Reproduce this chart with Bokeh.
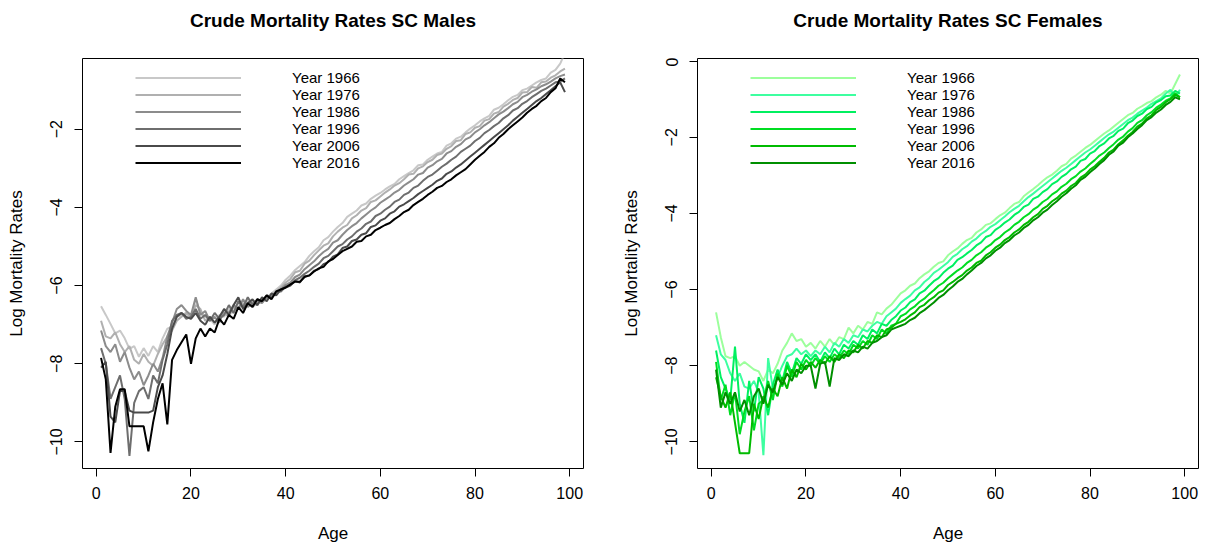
from bokeh.plotting import figure
from bokeh.layouts import row, column
from bokeh.models import Range1d, Legend, LegendItem, FixedTicker
from bokeh.core.properties import value
from bokeh.embed import file_html
from bokeh.resources import INLINE

ages = list(range(1, 100))
years = ["Year 1966", "Year 1976", "Year 1986", "Year 1996", "Year 2006", "Year 2016"]
x_ticks = [0, 20, 40, 60, 80, 100]
y_ticks_m = [-10, -8, -6, -4, -2]
y_ticks_f = [-10, -8, -6, -4, -2, 0]

male_colors = ["#c8c8c8", "#b0b0b0", "#8c8c8c", "#6e6e6e", "#4a4a4a", "#000000"]
female_colors = ["#9cff9c", "#3dffa0", "#00f060", "#00dd22", "#00bb00", "#008f00"]

M1966 = [
-6.53, -6.75, -6.98, -7.22, -7.15, -7.35, -7.62, -7.55, -7.82, -7.60,
-7.80, -7.55, -7.70, -7.35, -7.10, -7.05, -6.80, -6.75, -6.70, -6.85,
-6.35, -6.70, -6.80, -6.85, -7.00, -6.75, -6.80, -6.60, -6.70, -6.45,
-6.50, -6.40, -6.55, -6.45, -6.40, -6.30, -6.20, -6.10, -6.00,
-5.85, -5.74, -5.60, -5.50, -5.40, -5.24, -5.12, -5.02, -4.84, -4.76, -4.62,
-4.50, -4.40, -4.24, -4.16, -4.08, -3.95, -3.90, -3.78, -3.70, -3.63,
-3.54, -3.46, -3.40, -3.28, -3.20, -3.12, -3.05, -2.92, -2.90, -2.78,
-2.70, -2.62, -2.58, -2.42, -2.36, -2.24, -2.19, -2.08, -1.98, -1.90,
-1.80, -1.72, -1.66, -1.50, -1.45, -1.36, -1.26, -1.17, -1.12, -1.00,
-0.96, -0.88, -0.80, -0.74, -0.70, -0.55, -0.48, -0.32, -0.05]
M1976 = [
-6.90, -7.30, -7.35, -7.20, -7.50, -7.70, -7.55, -7.90, -8.00, -7.75,
-7.95, -8.05, -7.75, -7.50, -7.30, -7.15, -6.90, -6.80, -6.70, -6.80,
-6.50, -6.60, -6.90, -6.80, -6.95, -6.85, -6.70, -6.80, -6.55, -6.60,
-6.45, -6.50, -6.40, -6.50, -6.35, -6.30, -6.25, -6.15, -6.05,
-5.92, -5.83, -5.66, -5.62, -5.44, -5.36, -5.22, -5.10, -4.98, -4.92, -4.74,
-4.62, -4.52, -4.45, -4.28, -4.20, -4.08, -4.02, -3.86, -3.82, -3.72,
-3.62, -3.54, -3.44, -3.38, -3.28, -3.16, -3.14, -3.00, -2.95, -2.84,
-2.78, -2.66, -2.62, -2.50, -2.43, -2.30, -2.28, -2.12, -2.08, -1.96,
-1.92, -1.78, -1.74, -1.60, -1.56, -1.42, -1.35, -1.25, -1.20, -1.06,
-1.05, -0.92, -0.94, -0.80, -0.78, -0.68, -0.62, -0.52, -0.45]
M1986 = [
-7.15, -7.55, -7.70, -7.50, -7.95, -7.70, -8.10, -8.40, -8.20, -8.55,
-8.30, -8.00, -8.20, -7.85, -7.30, -6.95, -6.60, -6.50, -6.65, -6.75,
-6.30, -6.75, -6.65, -6.90, -6.80, -6.95, -6.60, -6.70, -6.50, -6.60,
-6.35, -6.55, -6.45, -6.40, -6.45, -6.30, -6.30, -6.20, -6.10,
-5.98, -5.92, -5.78, -5.72, -5.58, -5.48, -5.38, -5.25, -5.14, -5.06, -4.90,
-4.84, -4.70, -4.58, -4.48, -4.40, -4.28, -4.18, -4.08, -4.00, -3.88,
-3.80, -3.72, -3.62, -3.55, -3.44, -3.36, -3.28, -3.16, -3.12, -2.98,
-2.92, -2.82, -2.76, -2.62, -2.56, -2.45, -2.38, -2.26, -2.20, -2.08,
-2.00, -1.90, -1.82, -1.72, -1.62, -1.55, -1.46, -1.36, -1.30, -1.18,
-1.12, -1.04, -0.98, -0.90, -0.85, -0.78, -0.70, -0.64, -0.60]
M1996 = [
-7.60, -8.00, -8.90, -8.60, -8.30, -8.90, -10.36, -9.00, -8.70, -8.60,
-8.90, -8.30, -8.50, -7.90, -7.50, -6.90, -6.75, -6.70, -6.85, -6.80,
-6.60, -6.85, -6.75, -6.90, -6.70, -6.85, -6.75, -6.50, -6.70, -6.40,
-6.55, -6.30, -6.50, -6.35, -6.40, -6.25, -6.30, -6.15, -6.15,
-6.02, -5.98, -5.86, -5.80, -5.70, -5.62, -5.52, -5.44, -5.30, -5.24, -5.12,
-5.00, -4.94, -4.82, -4.74, -4.62, -4.54, -4.42, -4.36, -4.22, -4.16,
-4.06, -3.98, -3.86, -3.80, -3.68, -3.62, -3.50, -3.44, -3.32, -3.22,
-3.16, -3.06, -2.96, -2.88, -2.78, -2.70, -2.58, -2.50, -2.42, -2.30,
-2.22, -2.10, -2.02, -1.92, -1.84, -1.72, -1.64, -1.52, -1.46, -1.35,
-1.28, -1.18, -1.10, -1.02, -0.96, -0.88, -0.80, -0.78, -0.70]
M2006 = [
-8.10, -7.95, -9.35, -9.50, -8.70, -8.70, -9.20, -9.25, -9.25, -9.25,
-9.25, -9.20, -8.60, -8.30, -7.75, -7.10, -6.80, -6.70, -6.80, -6.85,
-6.70, -6.90, -7.00, -6.80, -6.95, -6.80, -6.60, -6.75, -6.50, -6.30,
-6.60, -6.45, -6.35, -6.50, -6.30, -6.40, -6.20, -6.25, -6.10,
-6.05, -6.00, -5.88, -5.92, -5.76, -5.74, -5.62, -5.58, -5.45, -5.40, -5.26,
-5.20, -5.04, -5.00, -4.86, -4.82, -4.70, -4.66, -4.50, -4.46, -4.34,
-4.28, -4.16, -4.10, -3.98, -3.92, -3.84, -3.76, -3.66, -3.58, -3.50,
-3.42, -3.32, -3.26, -3.14, -3.08, -2.98, -2.90, -2.80, -2.70, -2.60,
-2.50, -2.40, -2.30, -2.20, -2.10, -2.00, -1.90, -1.78, -1.68, -1.58,
-1.48, -1.38, -1.28, -1.20, -1.10, -1.00, -0.90, -0.80, -1.05]
M2016 = [
-7.85, -8.40, -10.28, -9.10, -8.65, -8.65, -9.60, -9.60, -9.60, -9.60,
-10.24, -9.50, -8.90, -8.50, -9.55, -7.90, -7.65, -7.45, -7.25, -8.00,
-7.35, -7.10, -7.30, -7.10, -7.20, -6.85, -7.00, -6.75, -6.85, -6.55,
-6.70, -6.45, -6.55, -6.35, -6.40, -6.25, -6.35, -6.15, -6.10,
-6.05, -5.97, -5.90, -5.90, -5.78, -5.74, -5.64, -5.56, -5.52, -5.38, -5.32,
-5.22, -5.12, -5.06, -5.00, -4.88, -4.86, -4.74, -4.70, -4.58, -4.52,
-4.45, -4.40, -4.30, -4.22, -4.12, -4.06, -3.94, -3.86, -3.78, -3.68,
-3.60, -3.50, -3.45, -3.35, -3.28, -3.18, -3.10, -3.02, -2.90, -2.78,
-2.68, -2.58, -2.45, -2.36, -2.22, -2.12, -2.00, -1.90, -1.80, -1.70,
-1.58, -1.48, -1.40, -1.28, -1.20, -1.05, -0.95, -0.70, -0.80]

F1966 = [
-6.60, -7.25, -7.75, -7.80, -7.75, -8.00, -7.90, -8.00, -8.10, -8.15,
-8.40, -8.10, -8.20, -7.95, -7.60, -7.40, -7.15, -7.35, -7.30, -7.50,
-7.40, -7.55, -7.35, -7.50, -7.30, -7.45, -7.25, -7.30, -7.00, -7.15,
-6.95, -7.05, -6.85, -6.90, -6.60, -6.65, -6.50, -6.40, -6.25,
-6.10, -6.02, -5.90, -5.84, -5.70, -5.60, -5.52, -5.40, -5.30, -5.26, -5.10,
-5.00, -4.92, -4.80, -4.70, -4.64, -4.50, -4.42, -4.30, -4.26, -4.15,
-4.05, -3.98, -3.86, -3.75, -3.70, -3.55, -3.45, -3.36, -3.26, -3.15,
-3.05, -2.98, -2.88, -2.76, -2.70, -2.56, -2.48, -2.38, -2.28, -2.20,
-2.10, -2.00, -1.90, -1.82, -1.72, -1.62, -1.52, -1.42, -1.36, -1.25,
-1.18, -1.10, -1.05, -0.95, -0.88, -0.78, -0.85, -0.60, -0.35]
F1976 = [
-7.20, -7.70, -7.85, -8.20, -8.40, -8.20, -8.55, -8.60, -8.40, -8.70,
-10.35, -7.80, -8.60, -8.30, -8.00, -7.75, -7.70, -7.55, -7.70, -7.60,
-7.75, -7.60, -7.70, -7.50, -7.65, -7.40, -7.50, -7.30, -7.40, -7.20,
-7.25, -7.05, -7.10, -6.95, -6.85, -6.90, -6.70, -6.60, -6.50,
-6.35, -6.25, -6.16, -6.02, -5.94, -5.80, -5.70, -5.56, -5.48, -5.38, -5.28,
-5.14, -5.06, -4.94, -4.86, -4.74, -4.66, -4.54, -4.46, -4.35, -4.28,
-4.18, -4.08, -3.97, -3.88, -3.80, -3.68, -3.57, -3.48, -3.38, -3.28,
-3.18, -3.08, -2.98, -2.88, -2.80, -2.70, -2.60, -2.50, -2.40, -2.32,
-2.22, -2.12, -2.02, -1.92, -1.85, -1.75, -1.65, -1.55, -1.48, -1.38,
-1.30, -1.22, -1.12, -1.05, -0.98, -0.85, -0.75, -0.95, -0.75]
F1986 = [
-7.60, -8.30, -8.60, -8.90, -7.50, -9.00, -9.50, -8.40, -9.20, -8.30,
-8.60, -9.30, -8.50, -8.10, -8.40, -7.90, -8.20, -7.80, -7.95, -7.70,
-7.85, -7.70, -7.90, -7.65, -7.80, -7.55, -7.70, -7.45, -7.55, -7.35,
-7.45, -7.20, -7.30, -7.05, -7.15, -6.90, -6.95, -6.80, -6.70,
-6.55, -6.47, -6.33, -6.26, -6.10, -6.03, -5.90, -5.78, -5.70, -5.56, -5.45,
-5.37, -5.22, -5.15, -5.05, -4.96, -4.84, -4.76, -4.62, -4.57, -4.43,
-4.35, -4.24, -4.16, -4.04, -3.96, -3.83, -3.77, -3.62, -3.56, -3.44,
-3.36, -3.23, -3.16, -3.04, -2.96, -2.84, -2.77, -2.62, -2.57, -2.43,
-2.36, -2.23, -2.16, -2.03, -1.96, -1.83, -1.77, -1.63, -1.56, -1.44,
-1.38, -1.26, -1.20, -1.08, -1.02, -0.92, -0.90, -0.78, -0.85]
F1996 = [
-7.90, -8.90, -8.50, -9.30, -8.70, -9.80, -9.20, -8.80, -9.70, -9.00,
-8.90, -8.40, -8.90, -8.20, -8.55, -8.00, -8.30, -7.90, -8.10, -7.85,
-8.00, -7.80, -7.95, -7.75, -7.90, -7.70, -7.80, -7.60, -7.70, -7.45,
-7.55, -7.35, -7.45, -7.20, -7.30, -7.05, -7.15, -6.95, -6.90,
-6.70, -6.64, -6.52, -6.44, -6.32, -6.24, -6.12, -6.02, -5.90, -5.82, -5.70,
-5.60, -5.50, -5.42, -5.30, -5.22, -5.10, -5.02, -4.90, -4.82, -4.70,
-4.62, -4.50, -4.42, -4.30, -4.22, -4.10, -4.02, -3.90, -3.82, -3.70,
-3.62, -3.50, -3.42, -3.30, -3.22, -3.10, -3.02, -2.90, -2.82, -2.70,
-2.60, -2.48, -2.40, -2.28, -2.18, -2.06, -1.98, -1.85, -1.76, -1.62,
-1.55, -1.42, -1.34, -1.22, -1.14, -1.04, -0.98, -0.84, -0.95]
F2006 = [
-8.30, -8.80, -9.10, -8.70, -9.50, -10.30, -10.30, -10.30, -9.00, -9.40,
-8.80, -9.10, -8.60, -8.80, -8.30, -8.60, -8.10, -8.30, -7.95, -8.10,
-7.90, -8.05, -7.85, -7.95, -7.75, -7.90, -7.70, -7.80, -7.60, -7.65,
-7.45, -7.55, -7.35, -7.40, -7.20, -7.25, -7.05, -7.00, -6.90,
-6.85, -6.78, -6.68, -6.60, -6.46, -6.40, -6.28, -6.20, -6.08, -6.02, -5.88,
-5.80, -5.70, -5.62, -5.50, -5.42, -5.30, -5.24, -5.10, -5.02, -4.90,
-4.82, -4.70, -4.62, -4.50, -4.42, -4.30, -4.22, -4.10, -4.02, -3.88,
-3.80, -3.68, -3.60, -3.48, -3.40, -3.28, -3.20, -3.06, -2.98, -2.85,
-2.76, -2.64, -2.54, -2.40, -2.32, -2.18, -2.08, -1.96, -1.86, -1.72,
-1.64, -1.50, -1.42, -1.28, -1.20, -1.08, -1.00, -0.88, -0.95]
F2016 = [
-8.10, -9.10, -8.70, -9.00, -8.70, -9.20, -8.90, -9.30, -8.80, -8.60,
-9.00, -8.50, -8.70, -8.30, -8.50, -8.20, -8.40, -8.10, -8.20, -8.00,
-8.00, -8.60, -7.95, -7.90, -8.55, -7.80, -7.85, -7.70, -7.75, -7.60,
-7.65, -7.50, -7.55, -7.40, -7.35, -7.25, -7.20, -7.05, -7.00,
-6.95, -6.90, -6.80, -6.74, -6.62, -6.54, -6.44, -6.34, -6.22, -6.14, -6.02,
-5.92, -5.80, -5.72, -5.60, -5.50, -5.38, -5.30, -5.18, -5.10, -4.98,
-4.90, -4.78, -4.70, -4.58, -4.50, -4.38, -4.30, -4.18, -4.10, -3.98,
-3.90, -3.78, -3.68, -3.56, -3.47, -3.35, -3.26, -3.12, -3.04, -2.92,
-2.82, -2.70, -2.60, -2.46, -2.37, -2.22, -2.14, -2.00, -1.90, -1.78,
-1.68, -1.55, -1.47, -1.35, -1.27, -1.15, -1.07, -0.95, -1.00]

male_series = [M1966, M1976, M1986, M1996, M2006, M2016]
female_series = [F1966, F1976, F1986, F1996, F2006, F2016]

FONT = "Liberation Sans"
TITLE_H = 57


def make_title(text, width, frame_left):
    t = figure(width=width, height=TITLE_H, x_range=Range1d(0, width),
               y_range=Range1d(0, TITLE_H), output_backend="svg",
               toolbar_location=None, x_axis_type=None, y_axis_type=None,
               min_border=0, title=None)
    t.outline_line_color = None
    t.background_fill_color = "white"
    t.border_fill_color = "white"
    t.text(x=[frame_left + 250.5], y=[TITLE_H - 20], text=[text],
           text_align="center", text_baseline="middle",
           text_font=value(FONT), text_font_size="19px",
           text_font_style="bold", text_color="black")
    return t


def make_panel(series, colors, y_range, y_ticks, width, bl, br):
    p = figure(width=width, height=545 - TITLE_H, x_range=Range1d(-2.92, 102.92),
               y_range=Range1d(*y_range), output_backend="svg", title=None,
               toolbar_location=None, min_border_left=bl, min_border_right=br,
               min_border_top=1, min_border_bottom=77)
    p.xgrid.visible = False
    p.ygrid.visible = False
    p.outline_line_color = "black"
    p.outline_line_width = 1
    p.background_fill_color = "white"
    p.border_fill_color = "white"
    for ax in (p.xaxis[0], p.yaxis[0]):
        ax.axis_line_color = None
        ax.major_tick_in = 0
        ax.major_tick_out = 8
        ax.major_tick_line_color = "black"
        ax.minor_tick_line_color = None
        ax.major_label_text_font = FONT
        ax.major_label_text_font_size = "16px"
        ax.major_label_text_color = "black"
        ax.axis_label_text_font = FONT
        ax.axis_label_text_font_size = "17px"
        ax.axis_label_text_font_style = "normal"
        ax.axis_label_text_color = "black"
    p.xaxis.ticker = FixedTicker(ticks=x_ticks)
    p.yaxis.ticker = FixedTicker(ticks=y_ticks)
    p.xaxis.axis_label = "Age"
    p.yaxis.axis_label = "Log Mortality Rates"
    p.xaxis.major_label_standoff = 10
    p.xaxis.axis_label_standoff = 22
    p.yaxis.major_label_orientation = "vertical"
    p.yaxis.major_label_standoff = 12
    p.yaxis.axis_label_standoff = 22

    items = []
    for name, vals, c in zip(years, series, colors):
        r = p.line(ages, vals, line_color=c, line_width=2)
        items.append(LegendItem(label=name, renderers=[r]))
    leg = Legend(items=items, location=(53, 297), glyph_width=106, glyph_height=17,
                 label_height=17, label_standoff=51, label_text_font=FONT,
                 label_text_font_size="15px", label_text_color="black",
                 padding=0, margin=0, spacing=0, border_line_color=None,
                 background_fill_alpha=0)
    p.add_layout(leg)
    return p


t1 = make_title("Crude Mortality Rates SC Males", 604, 82)
t2 = make_title("Crude Mortality Rates SC Females", 603, 93)
p1 = make_panel(male_series, male_colors, (-10.68, -0.19), y_ticks_m, 604, 82, 21)
p2 = make_panel(female_series, female_colors, (-10.70, 0.07), y_ticks_f, 603, 93, 9)

p = column(row(t1, t2), row(p1, p2))
open("out.html", "w").write(file_html(p, INLINE))
